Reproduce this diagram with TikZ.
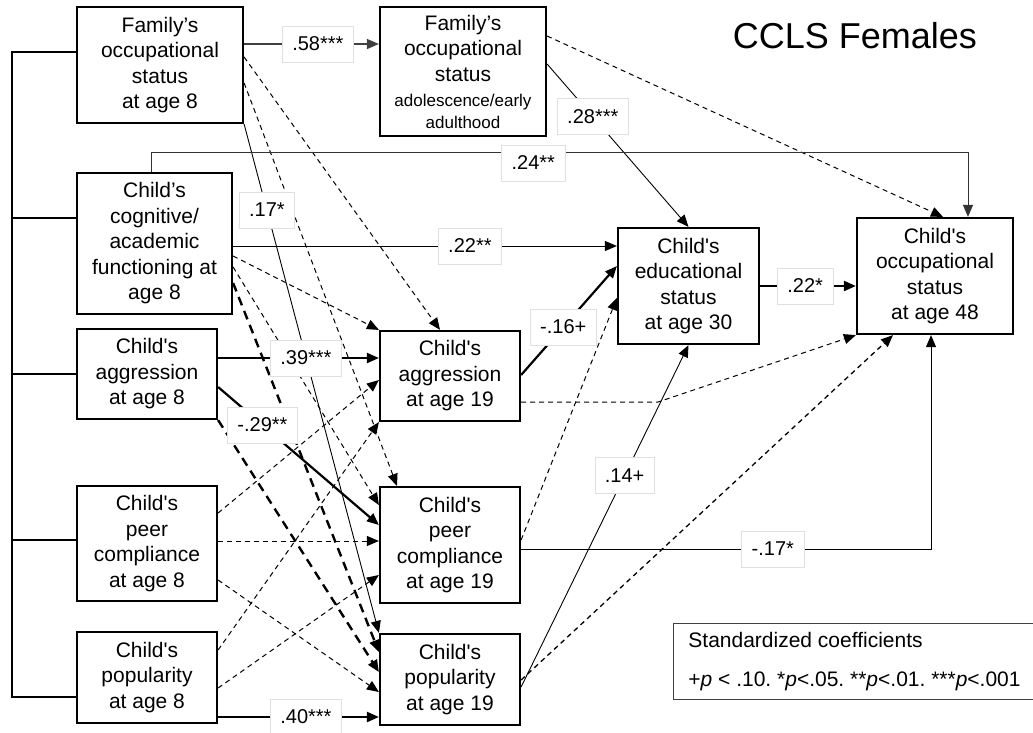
\documentclass[tikz,border=0pt]{standalone}
\usepackage{fontspec}
\setmainfont{Liberation Sans}
\usetikzlibrary{positioning, arrows.meta}
\frenchspacing

\begin{document}
\begin{tikzpicture}[x=1pt, y=-1pt,
        varbox/.style={draw, line width=2.2pt, align=center, inner sep=1pt, font=\fontsize{21}{25.5}\selectfont},
        coef/.style={draw=black!12, line width=0.6pt, fill=white, inner xsep=10pt, minimum height=36pt, font=\fontsize{20}{24}\selectfont},
        arrowend/.style={-{Triangle[length=12pt,width=10pt]}},
        thinarr/.style={arrowend, line width=0.9pt},
        thickarr/.style={arrowend, line width=2.2pt},
        dasharr/.style={arrowend, line width=1pt, dash pattern=on 5pt off 4pt},
        thickdash/.style={arrowend, line width=2.4pt, dash pattern=on 9pt off 6pt}]
        \useasboundingbox (0,0) rectangle (1033,732);

        % Draw the age 8 variables
        \node[varbox, minimum width=166pt, minimum height=116pt] (fam8) at (160,65) {Family’s\\occupational\\status\\at age 8};
        \node[varbox, minimum width=155pt, minimum height=141pt] (cog8) at (154.5,243.5) {Child’s\\cognitive/\\academic\\functioning at\\age 8};
        \node[varbox, minimum width=140pt, minimum height=90pt] (agg8) at (147,374) {Child\textquotesingle s\\aggression\\at age 8};
        \node[varbox, minimum width=140pt, minimum height=115pt] (peer8) at (147,543.5) {Child\textquotesingle s\\peer\\compliance\\at age 8};
        \node[varbox, minimum width=140pt, minimum height=91pt] (pop8) at (147,677.5) {Child\textquotesingle s\\popularity\\at age 8};

        % Draw the adolescence / age 19 variables
        \node[varbox, minimum width=166pt, minimum height=129pt] (famad) at (463,71.5) {Family’s\\occupational\\status\\{\fontsize{17}{21}\selectfont adolescence/early}\\[-4pt]{\fontsize{17}{21}\selectfont adulthood}};
        \node[varbox, minimum width=140pt, minimum height=90pt] (agg19) at (450,376) {Child\textquotesingle s\\aggression\\at age 19};
        \node[varbox, minimum width=140pt, minimum height=116pt] (peer19) at (450,545) {Child\textquotesingle s\\peer\\compliance\\at age 19};
        \node[varbox, minimum width=140pt, minimum height=91pt] (pop19) at (450,679.5) {Child\textquotesingle s\\popularity\\at age 19};

        % Draw the adult outcomes
        \node[varbox, minimum width=141pt, minimum height=116pt] (edu30) at (688.5,286) {Child\textquotesingle s\\educational\\status\\at age 30};
        \node[varbox, minimum width=156pt, minimum height=116pt] (occ48) at (935,276) {Child\textquotesingle s\\occupational\\status\\at age 48};

        % Title and legend
        \node[font=\fontsize{36}{40}\selectfont] (title) at (855,36) {CCLS Females};
        \node[draw=black!75, line width=1pt, anchor=north west, minimum width=362pt, minimum height=76pt, align=left, inner xsep=13pt, font=\fontsize{21}{39}\selectfont] (legend) at (673,623) {Standardized coefficients\\+\textit{p} < .10. *\textit{p}<.05. **\textit{p}<.01. ***\textit{p}<.001};

        % Draw the bracket joining the age 8 variables
        \draw[line width=2pt] ([yshift=13pt]fam8.west) -| ([xshift=-64pt,yshift=-19.5pt]pop8.west) -- ([yshift=-19.5pt]pop8.west);
        \draw[line width=2pt] ([yshift=25.5pt]cog8.west) -- ++(-64,0);
        \draw[line width=2pt] (agg8.west) -- ++(-64,0);
        \draw[line width=2pt] ([yshift=3.5pt]peer8.west) -- ++(-64,0);

        % Draw the non-significant paths
        \draw[dasharr] ([yshift=35.5pt]famad.east) -- ([xshift=8pt]occ48.north);
        \draw[dasharr] ([yshift=8pt]fam8.east) -- ([xshift=-10pt]agg19.north);
        \draw[dasharr] ([yshift=-18pt]fam8.east) -- ([xshift=-53pt]peer19.north);
        \draw[dasharr] ([yshift=-12.5pt]cog8.east) -- (agg19.north west);
        \draw[dasharr] ([yshift=-23.5pt]cog8.east) -- ([yshift=40pt]peer19.west);
        \draw[thickdash] ([yshift=-39.5pt]cog8.east) -- ([yshift=27.5pt]pop19.west);
        \draw[thickdash] (agg8.south east) -- ([yshift=7.5pt]pop19.west);
        \draw[dasharr] ([yshift=30.5pt]peer8.east) -- ([yshift=-4pt]agg19.west);
        \draw[dasharr] ([yshift=2.5pt]peer8.east) -- ([yshift=4pt]peer19.west);
        \draw[dasharr] ([yshift=-36.5pt]peer8.east) -- ([yshift=-12.5pt]pop19.west);
        \draw[dasharr] ([yshift=27.5pt]pop8.east) -- (agg19.south west);
        \draw[dasharr] ([yshift=-10.5pt]pop8.east) -- ([yshift=-30pt]peer19.west);
        \draw[dasharr] ([yshift=-26pt]agg19.east) -- ++(137,0) -- (occ48.south west);
        \draw[dasharr] ([yshift=5pt]peer19.east) -- ([yshift=-12pt]edu30.west);
        \draw[dasharr, line width=1.3pt] ([yshift=-0.5pt]pop19.east) -- ([xshift=-42pt]occ48.south);

        % Draw the significant paths with their coefficients
        \draw[thinarr] (fam8.south east) -- node[coef, pos=0.169] {.17*} (pop19.north west);
        \draw[thinarr, line width=1.4pt, black!75] ([yshift=21pt]fam8.east) -- node[coef, pos=0.547, text=black] {.58***} ([yshift=27.5pt]famad.west);
        \draw[thinarr] ([yshift=7.5pt]famad.east) -- node[coef, pos=0.323] {.28***} (edu30.north);
        \draw[thinarr, black!80] ([xshift=-3.5pt]cog8.north) -- ++(0,-19) -| node[coef, pos=0.234, yshift=-10pt, text=black] {.24**} ([xshift=33pt]occ48.north);
        \draw[thinarr] ([yshift=-2.5pt]cog8.east) -- node[coef, pos=0.617] {.22**} ([yshift=40pt]edu30.west);
        \draw[thickarr] ([yshift=16pt]agg8.east) -- node[coef, pos=0.546] {.39***} ([yshift=18pt]agg19.west);
        \draw[thickarr] ([yshift=-13pt]agg8.east) -- node[coef, pos=0.276] {-.29**} ([yshift=20pt]peer19.west);
        \draw[thickarr] ([yshift=-39.5pt]pop8.east) -- node[coef, pos=0.546] {.40***} ([yshift=-37.5pt]pop19.west);
        \draw[thickarr] ([yshift=1pt]agg19.east) -- node[coef, pos=0.44] {-.16+} ([yshift=20pt]edu30.west);
        \draw[thinarr] ([yshift=-4pt]peer19.east) -| node[coef, pos=0.307] {-.17*} ([xshift=-4pt]occ48.south);
        \draw[thinarr] ([yshift=-7.5pt]pop19.east) -- node[coef, pos=0.618] {.14+} (edu30.south);
        \draw[thickarr] (edu30.east) -- node[coef, pos=0.47] {.22*} ([yshift=-10pt]occ48.west);

\end{tikzpicture}
\end{document}
